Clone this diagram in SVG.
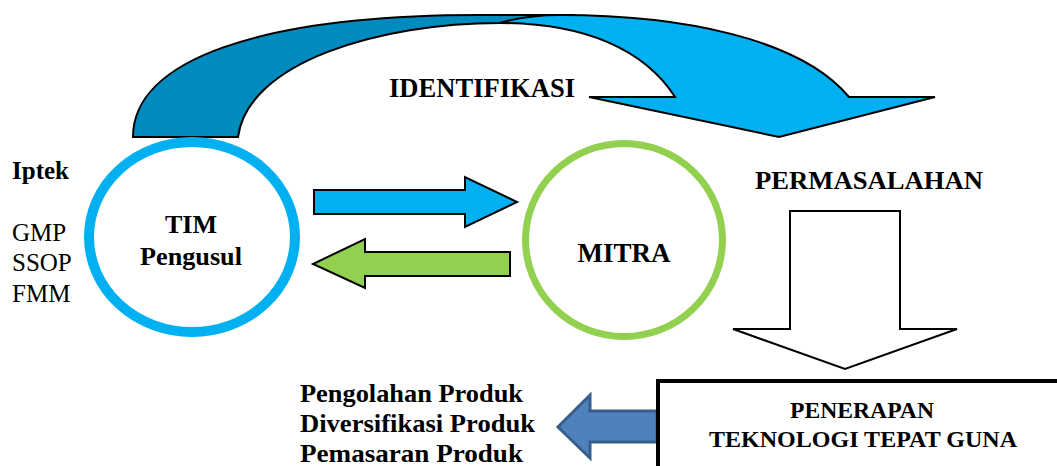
<svg xmlns="http://www.w3.org/2000/svg" width="1057" height="466" viewBox="0 0 1057 466">
<style>
text{font-family:"Liberation Serif","Times New Roman",Times,serif;fill:#000}
.b{font-weight:bold}
.blk{stroke:#000;stroke-width:2;stroke-linejoin:miter}
</style>
<rect width="1057" height="466" fill="#fff"/>
<g id="connectors">
  <g id="identifikasi-arrow">
    <path class="blk" fill="#008BBE" d="M133,137 C133,60 260,15 480,15 L575,15 L500,23 C380,23 248,62 238,137 Z"/>
    <path class="blk" fill="#00B0F0" d="M500,23 C520,17 540,15 560,15 C680,15 800,38 849,97 L935,97 L779,137 L589,97 L675,97 C645,50 585,23 500,23 Z"/>
  </g>
  <path id="arrow-tim-mitra" class="blk" fill="#00B0F0" d="M314,190 L465,190 L465,177 L517,202 L465,227 L465,214 L314,214 Z"/>
  <path id="arrow-mitra-tim" class="blk" fill="#92D050" d="M510,252 L365,252 L365,239 L313,264 L365,288 L365,276 L510,276 Z"/>
  <path id="arrow-down" class="blk" fill="#fff" d="M790,211 L900,211 L900,329 L957,329 L845,369 L733,329 L790,329 Z"/>
  <path id="arrow-output" fill="#4F81BD" stroke="#385D8A" stroke-width="3" d="M657,411 L590,411 L590,395 L558,427 L590,458 L590,442 L657,442 Z"/>
</g>
<g id="label-identifikasi"><text class="b" font-family="Liberation Serif" x="389" y="97" font-size="28" textLength="186" lengthAdjust="spacingAndGlyphs">IDENTIFIKASI</text></g>
<g id="tim">
  <ellipse cx="192" cy="237" rx="103" ry="95" fill="none" stroke="#00B0F0" stroke-width="10"/>
  <text class="b" font-family="Liberation Serif" x="191" y="233" font-size="26" text-anchor="middle">TIM</text>
  <text class="b" font-family="Liberation Serif" x="191" y="265" font-size="26" text-anchor="middle" textLength="102" lengthAdjust="spacingAndGlyphs">Pengusul</text>
</g>
<g id="iptek">
  <text class="b" font-family="Liberation Serif" x="12" y="179" font-size="25">Iptek</text>
  <text font-family="Liberation Serif" x="12" y="241" font-size="25">GMP</text>
  <text font-family="Liberation Serif" x="12" y="271" font-size="25">SSOP</text>
  <text font-family="Liberation Serif" x="12" y="302" font-size="25">FMM</text>
</g>
<g id="mitra">
  <ellipse cx="624" cy="240" rx="98.5" ry="96.5" fill="none" stroke="#92D050" stroke-width="7"/>
  <text class="b" font-family="Liberation Serif" x="624" y="262" font-size="27" text-anchor="middle">MITRA</text>
</g>
<g id="permasalahan"><text class="b" font-family="Liberation Serif" x="755" y="189" font-size="26" textLength="228" lengthAdjust="spacingAndGlyphs">PERMASALAHAN</text></g>
<g id="penerapan">
  <rect x="658" y="381" width="420" height="120" fill="#fff" stroke="#000" stroke-width="4"/>
  <text class="b" font-family="Liberation Serif" x="862" y="418" font-size="24" text-anchor="middle" textLength="144" lengthAdjust="spacingAndGlyphs">PENERAPAN</text>
  <text class="b" font-family="Liberation Serif" x="863" y="447" font-size="24" text-anchor="middle" textLength="308" lengthAdjust="spacingAndGlyphs">TEKNOLOGI TEPAT GUNA</text>
</g>
<g id="output">
  <text class="b" font-family="Liberation Serif" x="300" y="402" font-size="25" textLength="223" lengthAdjust="spacingAndGlyphs">Pengolahan Produk</text>
  <text class="b" font-family="Liberation Serif" x="300" y="432" font-size="25" textLength="235" lengthAdjust="spacingAndGlyphs">Diversifikasi Produk</text>
  <text class="b" font-family="Liberation Serif" x="300" y="462" font-size="25" textLength="223" lengthAdjust="spacingAndGlyphs">Pemasaran Produk</text>
</g>
</svg>
